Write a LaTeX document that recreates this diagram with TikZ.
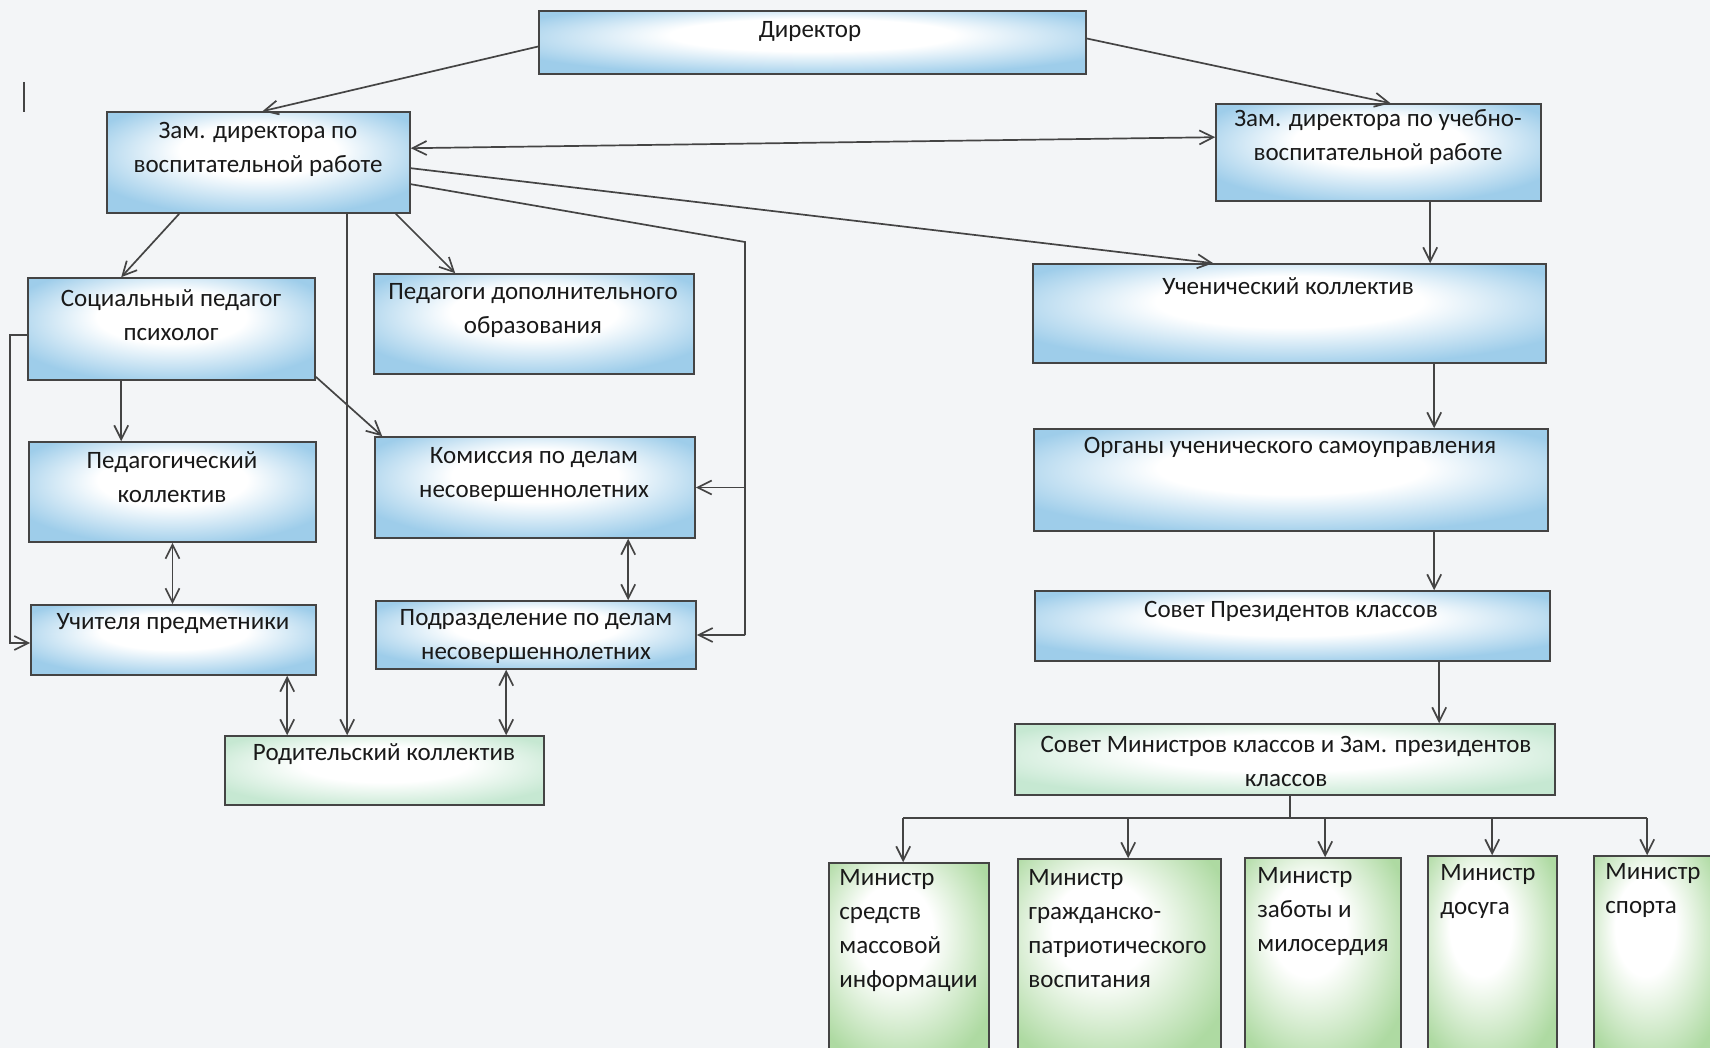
\documentclass[tikz,border=0pt]{standalone}
\usepackage{fontspec}
\setmainfont{Carlito}
\usetikzlibrary{arrows.meta,calc,fit,positioning}
\definecolor{paper}{HTML}{F3F5F7}
\definecolor{pencilblue}{HTML}{9ECDEA}
\definecolor{pencilgreen}{HTML}{AEDAA2}
\definecolor{palegreen}{HTML}{C6E8D2}
\definecolor{inkgray}{HTML}{444444}
\pgfdeclareradialshading{blueblot}{\pgfpoint{0bp}{8bp}}{color(0bp)=(white); color(13bp)=(white); color(30bp)=(pencilblue); color(50bp)=(pencilblue)}
\pgfdeclareradialshading{paleblot}{\pgfpoint{0bp}{6bp}}{color(0bp)=(white); color(13bp)=(white); color(30bp)=(palegreen); color(50bp)=(palegreen)}
\pgfdeclareradialshading{greenblot}{\pgfpoint{-6bp}{10bp}}{color(0bp)=(white); color(12bp)=(white); color(32bp)=(pencilgreen); color(50bp)=(pencilgreen)}
\tikzset{
	orgbox/.style={draw=inkgray, line width=0.8pt, inner sep=0pt, shading=blueblot},
	parentbox/.style={orgbox, shading=paleblot},
	ministerbox/.style={orgbox, shading=greenblot},
	txt/.style={align=center, font=\fontsize{12.5}{17}\selectfont, text=black!90, inner sep=0pt},
	ink/.style={draw=inkgray, line width=0.85pt},
	conn/.style={ink, -{Straight Barb[length=7pt,width=7pt]}},
	twoway/.style={ink, {Straight Barb[length=7pt,width=7pt]}-{Straight Barb[length=7pt,width=7pt]}}
}
\begin{document}
\begin{tikzpicture}[x=0.5pt, y=-0.5pt]
	\useasboundingbox[fill=paper] (0,0) rectangle (1710,1048);
	% boxes
	\node[orgbox, fit={(539,11) (1086,74)}] (dir) {};
	\node[txt] (dir-t) at (810,31) {Директор};
	\node[orgbox, fit={(107,112) (410,213)}] (zamvr) {};
	\node[txt] (zamvr-t) at (258,149) {Зам. директора по\\воспитательной работе};
	\node[orgbox, fit={(1216,104) (1541,201)}] (zamuvr) {};
	\node[txt] (zamuvr-t) at (1378,137) {Зам. директора по учебно-\\воспитательной работе};
	\node[orgbox, fit={(28,278) (315,380)}] (social) {};
	\node[txt] (social-t) at (171,315) {Социальный педагог\\психолог};
	\node[orgbox, fit={(374,274) (694,374)}] (dopobr) {};
	\node[txt] (dopobr-t) at (533,310) {Педагоги дополнительного\\образования};
	\node[orgbox, fit={(1033,264) (1546,363)}] (uchkol) {};
	\node[txt] (uchkol-t) at (1288,286) {Ученический коллектив};
	\node[orgbox, fit={(29,442) (316,542)}] (pedkol) {};
	\node[txt] (pedkol-t) at (172,477) {Педагогический\\коллектив};
	\node[orgbox, fit={(375,437) (695,538)}] (komis) {};
	\node[txt] (komis-t) at (534,474) {Комиссия по делам\\несовершеннолетних};
	\node[orgbox, fit={(1034,429) (1548,531)}] (organy) {};
	\node[txt] (organy-t) at (1290,447) {Органы ученического самоуправления};
	\node[orgbox, fit={(31,605) (316,675)}] (uchit) {};
	\node[txt] (uchit-t) at (173,624) {Учителя предметники};
	\node[orgbox, fit={(376,601) (696,669)}] (podrazd) {};
	\node[txt] (podrazd-t) at (536,636) {Подразделение по делам\\несовершеннолетних};
	\node[orgbox, fit={(1035,591) (1550,661)}] (sovpres) {};
	\node[txt] (sovpres-t) at (1291,611) {Совет Президентов классов};
	\node[parentbox, fit={(225,736) (544,805)}] (rodkol) {};
	\node[txt] (rodkol-t) at (384,754) {Родительский коллектив};
	\node[parentbox, fit={(1015,724) (1555,795)}] (sovmin) {};
	\node[txt] (sovmin-t) at (1286,761) {Совет Министров классов и Зам. президентов\\классов};
	% ministers
	\node[ministerbox, fit={(829,863) (989,1060)}] (m1) {};
	\node[txt, align=left, anchor=north west] (m1-t) at (839,869) {Министр\\средств\\массовой\\информации};
	\node[ministerbox, fit={(1018,859) (1221,1060)}] (m2) {};
	\node[txt, align=left, anchor=north west] (m2-t) at (1028,869) {Министр\\гражданско-\\патриотического\\воспитания};
	\node[ministerbox, fit={(1245,858) (1401,1060)}] (m3) {};
	\node[txt, align=left, anchor=north west] (m3-t) at (1257,867) {Министр\\заботы и\\милосердия};
	\node[ministerbox, fit={(1428,856) (1557,1060)}] (m4) {};
	\node[txt, align=left, anchor=north west] (m4-t) at (1440,864) {Министр\\досуга};
	\node[ministerbox, fit={(1594,856) (1720,1060)}] (m5) {};
	\node[txt, align=left, anchor=north west] (m5-t) at (1605,863) {Министр\\спорта};
	% stray mark
	\draw[ink] (24,82) -- (24,112);
	% top level
	\draw[conn] ($(dir.west)+(0,4)$) -- ($(zamvr.north)+(4,0)$);
	\draw[conn] ($(dir.east)+(0,-4)$) -- ($(zamuvr.north)+(12,0)$);
	\draw[twoway] ($(zamvr.north east)+(0,37)$) -- ($(zamuvr.north west)+(0,34)$);
	\draw[conn] ($(zamvr.north east)+(0,57)$) -- ($(uchkol.north west)+(181,0)$);
	% right bus of the deputy
	\coordinate (busTop) at (745,242);
	\coordinate (busBot) at (745,635);
	\draw[ink] ($(zamvr.north east)+(0,73)$) -- (busTop) -- (busBot);
	\draw[conn] (busBot) -- (podrazd.east);
	\draw[conn] (busTop |- komis.east) -- (komis.east);
	% left branch
	\draw[conn] ($(zamvr.south west)+(73,0)$) -- ($(social.north west)+(94,0)$);
	\draw[conn] ($(zamvr.south east)+(-15,0)$) -- ($(dopobr.north west)+(82,0)$);
	\coordinate (rodIn) at ($(zamvr.south west)+(241,0)$);
	\draw[conn] (rodIn) -- (rodIn |- rodkol.north);
	\coordinate (pedIn) at ($(social.south west)+(94,0)$);
	\draw[conn] (pedIn) -- (pedIn |- pedkol.north);
	\draw[conn] ($(social.south east)+(0,-4)$) -- ($(komis.north west)+(8,0)$);
	\draw[conn] ($(social.west)+(0,6)$) -- ++(-17,0) |- ($(uchit.west)+(0,3)$);
	\draw[twoway] (pedkol.south) -- (pedkol.south |- uchit.north);
	\coordinate (uchOut) at ($(uchit.south west)+(257,0)$);
	\draw[twoway] (uchOut) -- (uchOut |- rodkol.north);
	\coordinate (komOut) at ($(komis.south west)+(254,0)$);
	\draw[twoway] (komOut) -- (komOut |- podrazd.north);
	\coordinate (podOut) at ($(podrazd.south west)+(131,0)$);
	\draw[twoway] (podOut) -- (podOut |- rodkol.north);
	% pupils' chain
	\coordinate (uvrOut) at ($(zamuvr.south west)+(215,0)$);
	\draw[conn] (uvrOut) -- (uvrOut |- uchkol.north);
	\coordinate (uchkolOut) at ($(uchkol.south west)+(402,0)$);
	\draw[conn] (uchkolOut) -- (uchkolOut |- organy.north);
	\coordinate (organyOut) at ($(organy.south west)+(401,0)$);
	\draw[conn] (organyOut) -- (organyOut |- sovpres.north);
	\coordinate (sovpresOut) at ($(sovpres.south west)+(405,0)$);
	\draw[conn] (sovpresOut) -- (sovpresOut |- sovmin.north);
	% ministers bus
	\coordinate (bus) at (0,818);
	\coordinate (hub) at ($(sovmin.south west)+(276,0)$);
	\draw[ink] (hub) -- (hub |- bus);
	\foreach \m/\dx in {m1/75, m2/111, m3/81, m4/65, m5/54} {
		\path ($(\m.north west)+(\dx,0)$) coordinate (\m-in);
		\draw[conn] (\m-in |- bus) -- (\m-in);
	}
	\draw[ink] (m1-in |- bus) -- (m5-in |- bus);
\end{tikzpicture}
\end{document}
